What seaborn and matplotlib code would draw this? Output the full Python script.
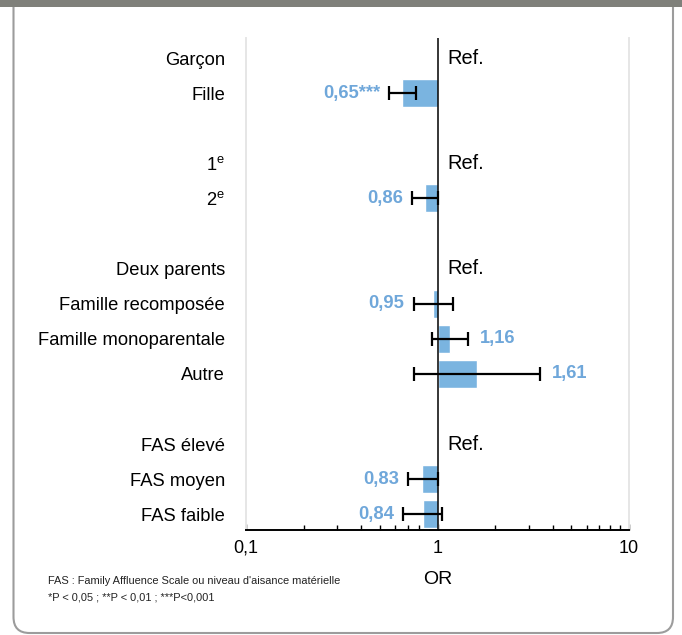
import numpy as np
import matplotlib
matplotlib.use("Agg")
import matplotlib.pyplot as plt
import matplotlib.patches as mpatches
import seaborn as sns

# data
labels = ["Garçon", "Fille", "1$^\\mathregular{e}$", "2$^\\mathregular{e}$",
          "Deux parents", "Famille recomposée", "Famille monoparentale", "Autre",
          "FAS élevé", "FAS moyen", "FAS faible"]
groups = [0, 0, 1, 1, 2, 2, 2, 2, 3, 3, 3]
is_ref = [True, False, True, False, True, False, False, False, True, False, False]
odds = [1.0, 0.65, 1.0, 0.86, 1.0, 0.95, 1.16, 1.61, 1.0, 0.83, 0.84]
ci_low = [np.nan, 0.56, np.nan, 0.74, np.nan, 0.75, 0.94, 0.75, np.nan, 0.70, 0.66]
ci_high = [np.nan, 0.77, np.nan, 1.01, np.nan, 1.21, 1.45, 3.45, np.nan, 1.01, 1.06]
stars = ["", "***", "", "", "", "", "", "", "", "", ""]
xticks = [0.1, 1, 10]
xtick_labels = ["0,1", "1", "10"]
footnote = ["FAS : Family Affluence Scale ou niveau d'aisance matérielle",
            "*P < 0,05 ; **P < 0,01 ; ***P<0,001"]

BAR = "#7ab4e0"
TXT = "#6fa7da"

sns.set_theme(style="white")
plt.rcParams['font.family'] = ['Liberation Sans', 'DejaVu Sans']
plt.rcParams['mathtext.fontset'] = 'custom'
plt.rcParams['mathtext.rm'] = 'Liberation Sans'

fig = plt.figure(figsize=(6.82, 6.35), dpi=100)

# frame: rounded white box and grey band on top
box = mpatches.FancyBboxPatch((0.135, 0.02), 6.595, 6.6,
                              boxstyle="round,pad=0,rounding_size=0.16",
                              transform=fig.dpi_scale_trans, facecolor="white",
                              edgecolor="#9c9c9c", linewidth=1.5, zorder=-5)
fig.patches.append(box)
band = mpatches.Rectangle((0, 6.28), 6.82, 0.1, transform=fig.dpi_scale_trans,
                          facecolor="#7f807a", edgecolor="none", zorder=-4)
fig.patches.append(band)

ax = fig.add_axes([246 / 682, 1 - 530 / 635, (629 - 246) / 682, (530 - 38) / 635])
ax.patch.set_alpha(0)

pos = np.arange(len(labels)) + np.array(groups)
odds_a = np.array(odds)
lo = np.array(ci_low)
hi = np.array(ci_high)
ref = np.array(is_ref)

ax.set_xscale("log")
# bars start at OR = 1
ax.barh(pos[~ref], odds_a[~ref] - 1, left=1, height=0.8, color=BAR, zorder=2)
ax.errorbar(odds_a[~ref], pos[~ref],
            xerr=[odds_a[~ref] - lo[~ref], hi[~ref] - odds_a[~ref]],
            fmt="none", ecolor="black", elinewidth=1.6, capsize=4.7, capthick=1.6, zorder=3)
ax.axvline(1, color="black", linewidth=1.1, zorder=4)

for p, r, v, l, h, s in zip(pos, is_ref, odds, ci_low, ci_high, stars):
    if r:
        ax.annotate("Ref.", (1, p), xytext=(7, 0), textcoords="offset points",
                    ha="left", va="center", fontsize=14.4, color="black")
        continue
    txt = f"{v:.2f}".replace(".", ",") + s
    if v < 1:
        ax.annotate(txt, (l, p), xytext=(-6.5, 0), textcoords="offset points",
                    ha="right", va="center", fontsize=13.2, fontweight="bold", color=TXT)
    else:
        ax.annotate(txt, (h, p), xytext=(8.5, 0), textcoords="offset points",
                    ha="left", va="center", fontsize=13.2, fontweight="bold", color=TXT)

ax.set_xlim(0.1, 10)
ax.set_ylim(13.45, -0.57)
ax.set_yticks(pos)
ax.set_yticklabels(labels, fontsize=13.2, color="black")
ax.tick_params(axis="y", length=0, pad=15)
ax.set_xticks(xticks)
ax.set_xticklabels(xtick_labels, fontsize=13, color="black")
ax.tick_params(axis="x", which="both", direction="in", color="black", pad=7, bottom=True)
ax.tick_params(axis="x", which="major", length=4, width=1)
ax.tick_params(axis="x", which="minor", length=3.6, width=1)
ax.set_xlabel("OR", fontsize=14, color="black", labelpad=10)

ax.spines["top"].set_visible(False)
ax.spines["bottom"].set_color("black")
ax.spines["bottom"].set_linewidth(1.4)
for side in ["left", "right"]:
    ax.spines[side].set_color("#e6e6e6")
    ax.spines[side].set_linewidth(1.4)

fig.text(48 / 682, 54 / 635, footnote[0], fontsize=7.9, va="center", ha="left", color="#222222")
fig.text(48 / 682, 37 / 635, footnote[1], fontsize=7.9, va="center", ha="left", color="#222222")

fig.savefig("out.png", dpi=100)
